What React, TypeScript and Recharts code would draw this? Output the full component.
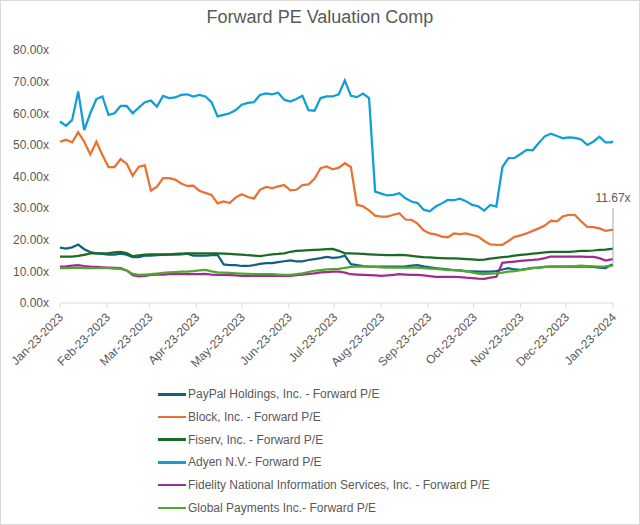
import React from 'react';
import { LineChart, Line, XAxis, YAxis } from 'recharts';

// sample dates (every 4 days)
const dates = [
  '2023-01-23', '2023-01-27', '2023-01-31', '2023-02-04', '2023-02-08', '2023-02-12', '2023-02-16', '2023-02-20',
  '2023-02-24', '2023-02-28', '2023-03-04', '2023-03-08', '2023-03-12', '2023-03-16', '2023-03-20', '2023-03-24',
  '2023-03-28', '2023-04-01', '2023-04-05', '2023-04-09', '2023-04-13', '2023-04-17', '2023-04-21', '2023-04-25',
  '2023-04-29', '2023-05-03', '2023-05-07', '2023-05-11', '2023-05-15', '2023-05-19', '2023-05-23', '2023-05-27',
  '2023-05-31', '2023-06-04', '2023-06-08', '2023-06-12', '2023-06-16', '2023-06-20', '2023-06-24', '2023-06-28',
  '2023-07-02', '2023-07-06', '2023-07-10', '2023-07-14', '2023-07-18', '2023-07-22', '2023-07-26', '2023-07-30',
  '2023-08-03', '2023-08-07', '2023-08-11', '2023-08-15', '2023-08-19', '2023-08-23', '2023-08-27', '2023-08-31',
  '2023-09-04', '2023-09-08', '2023-09-12', '2023-09-16', '2023-09-20', '2023-09-24', '2023-09-28', '2023-10-02',
  '2023-10-06', '2023-10-10', '2023-10-14', '2023-10-18', '2023-10-22', '2023-10-26', '2023-10-30', '2023-11-03',
  '2023-11-07', '2023-11-11', '2023-11-15', '2023-11-19', '2023-11-23', '2023-11-27', '2023-12-01', '2023-12-05',
  '2023-12-09', '2023-12-13', '2023-12-17', '2023-12-21', '2023-12-25', '2023-12-29', '2024-01-02', '2024-01-06',
  '2024-01-10', '2024-01-14', '2024-01-18', '2024-01-22', '2024-01-23',
];

const paypal = [
  17.5, 17.2, 17.6, 18.5, 17, 16.1, 15.7, 15.5, 15.3, 15.3,
  15.6, 15.3, 14.5, 14.5, 15, 15, 15.1, 15.2, 15.3, 15.3,
  15.4, 15.6, 15, 15, 15, 15.1, 15.2, 12.2, 12, 12,
  11.7, 11.7, 12, 12.4, 12.6, 12.6, 12.9, 13.2, 13.5, 13.2,
  13.2, 13.6, 13.9, 14.2, 14.6, 14.3, 14.4, 15, 12.3, 12,
  11.7, 11.5, 11.5, 11.5, 11.5, 11.5, 11.5, 11.6, 11.8, 12,
  11.6, 11.3, 11, 10.8, 10.6, 10.4, 10.3, 10.1, 10, 9.9,
  9.9, 9.9, 10.1, 10.6, 11, 10.6, 10.5, 10.8, 11.1, 11.2,
  11.4, 11.5, 11.5, 11.5, 11.5, 11.5, 11.5, 11.5, 11.4, 11.2,
  11, 12.1, 12,
];

const block = [
  51, 51.6, 50.8, 54, 51, 47, 51, 46.8, 43, 43,
  45.5, 44, 40.2, 43.1, 43.5, 35.5, 36.8, 39.5, 39.5, 39,
  37.8, 37, 37.1, 35.5, 34.8, 34.2, 31.5, 32.1, 31.6, 33.4,
  34.4, 33.5, 33, 35.8, 36.7, 36.3, 36.9, 37.3, 35.6, 35.8,
  37.3, 37.5, 39.3, 42.6, 43.2, 42.3, 42.8, 44.2, 43, 31,
  30.6, 29.3, 27.6, 27.3, 27.3, 27.9, 28.4, 26.4, 26.3, 25.1,
  23, 22, 21.7, 21, 20.8, 22, 21.8, 22, 21.5, 21,
  19.6, 18.5, 18.4, 18.4, 19.6, 20.9, 21.4, 22, 22.8, 23.6,
  24.5, 26, 25.8, 27.4, 27.9, 27.8, 25.8, 24.1, 24, 23.6,
  22.8, 23.1, 23.1,
];

const fiserv = [
  14.7, 14.7, 14.7, 14.9, 15.2, 15.7, 15.7, 15.7, 15.8, 16,
  16.2, 15.8, 14.8, 15.1, 15.3, 15.4, 15.4, 15.4, 15.4, 15.5,
  15.6, 15.7, 15.7, 15.7, 15.7, 15.7, 15.7, 15.6, 15.5, 15.4,
  15.3, 15.1, 15, 14.8, 15.1, 15.4, 15.5, 15.7, 16.2, 16.5,
  16.6, 16.7, 16.8, 16.9, 17, 17.1, 16.5, 15.7, 15.7, 15.6,
  15.5, 15.4, 15.3, 15.2, 15.1, 15.1, 15.2, 15.1, 14.9, 14.7,
  14.5, 14.4, 14.3, 14.2, 14.1, 14.1, 14, 13.9, 13.8, 13.6,
  13.7, 14, 14.3, 14.5, 14.7, 15, 15.2, 15.4, 15.6, 15.8,
  16, 16.2, 16.2, 16.2, 16.2, 16.3, 16.5, 16.5, 16.6, 16.8,
  16.9, 17.1, 17.1,
];

const adyen = [
  57.4, 56, 57.9, 66.9, 54.7, 60, 64.5, 65.3, 59.5, 60,
  62.3, 62.3, 60, 61.8, 63.5, 64, 62.1, 65.5, 64.8, 65,
  65.8, 66, 65.3, 65.8, 65.3, 63.5, 59, 59.5, 60, 61,
  62.7, 63.3, 63.5, 65.8, 66.3, 66, 66.5, 64.3, 63.7, 64.5,
  65.5, 61, 60.8, 64.8, 65.3, 65.3, 66, 70.4, 65.5, 65.1,
  66.2, 64.8, 35.2, 34.6, 34, 34.2, 34.7, 33.1, 32.1, 31.6,
  29.5, 29, 30.5, 31.5, 32.6, 32.5, 33, 32.2, 31, 30.6,
  29.2, 31, 30.5, 43, 45.8, 45.9, 47.1, 48.4, 48.3, 50.6,
  52.7, 53.5, 52.8, 52.1, 52.4, 52.2, 51.7, 50, 51, 52.6,
  50.8, 50.8, 51.2,
];

const fis = [
  11.5, 11.6, 11.8, 12, 11.7, 11.5, 11.4, 11.3, 11.2, 11.1,
  11, 10.3, 8.8, 8.4, 8.6, 8.9, 9, 9, 9.1, 9.1,
  9.1, 9.1, 9.1, 9.1, 9.2, 9, 8.9, 8.9, 8.8, 8.7,
  8.6, 8.6, 8.6, 8.6, 8.6, 8.6, 8.6, 8.6, 8.6, 8.8,
  9, 9.2, 9.4, 9.7, 9.8, 9.9, 9.9, 9.6, 9.1, 9,
  8.9, 8.8, 8.7, 8.6, 8.7, 8.9, 9.1, 9, 8.9, 8.9,
  8.7, 8.5, 8.3, 8.3, 8.3, 8.3, 8.2, 8, 7.9, 7.7,
  7.6, 8, 8.3, 12.7, 12.9, 13.1, 13.3, 13.5, 13.6, 13.8,
  14.2, 14.7, 14.7, 14.7, 14.7, 14.7, 14.7, 14.6, 14.6, 14.2,
  13.4, 13.8, 13.9,
];

const gpn = [
  11, 11, 11.1, 11.2, 11, 11, 11, 11, 11, 10.9,
  10.8, 10.3, 9.2, 8.9, 9, 9.1, 9.3, 9.5, 9.7, 9.8,
  9.9, 9.9, 10.1, 10.3, 10.5, 10, 9.7, 9.6, 9.5, 9.4,
  9.3, 9.2, 9.1, 9.1, 9.1, 9.1, 9, 8.9, 8.9, 9.1,
  9.4, 9.8, 10.2, 10.4, 10.6, 10.7, 10.8, 11.1, 11.4, 11.5,
  11.5, 11.5, 11.4, 11.3, 11.2, 11.2, 11.2, 11.2, 11.2, 11.2,
  11, 10.9, 10.8, 10.6, 10.4, 10.4, 10.2, 10, 9.7, 9.3,
  9.1, 9.3, 9.4, 9.6, 9.9, 10.1, 10.4, 10.7, 11, 11.2,
  11.4, 11.5, 11.5, 11.5, 11.6, 11.7, 11.8, 11.7, 11.6, 11.5,
  11.6, 11.9, 11.67,
];

const tickDates = [
  '2023-01-23', '2023-02-23', '2023-03-23', '2023-04-23', '2023-05-23', '2023-06-23', '2023-07-23',
  '2023-08-23', '2023-09-23', '2023-10-23', '2023-11-23', '2023-12-23', '2024-01-23',
];
const yTicks = [0, 10, 20, 30, 40, 50, 60, 70, 80];

const series = [
  { key: 'paypal', name: 'PayPal Holdings, Inc. - Forward P/E', color: '#156082' },
  { key: 'block', name: 'Block, Inc. - Forward P/E', color: '#E97132' },
  { key: 'fiserv', name: 'Fiserv, Inc. - Forward P/E', color: '#196B24' },
  { key: 'adyen', name: 'Adyen N.V.- Forward P/E', color: '#0F9ED5' },
  { key: 'fis', name: 'Fidelity National Information Services, Inc. - Forward P/E', color: '#A02B93' },
  { key: 'gpn', name: 'Global Payments Inc.- Forward P/E', color: '#4EA72E' },
];

const data = dates.map((d, i) => ({
  t: Date.parse(d),
  paypal: paypal[i],
  block: block[i],
  fiserv: fiserv[i],
  adyen: adyen[i],
  fis: fis[i],
  gpn: gpn[i],
}));

const MONTHS = ['Jan', 'Feb', 'Mar', 'Apr', 'May', 'Jun', 'Jul', 'Aug', 'Sep', 'Oct', 'Nov', 'Dec'];
const fmtDate = (t: number) => {
  const d = new Date(t);
  return `${MONTHS[d.getUTCMonth()]}-${d.getUTCDate()}-${d.getUTCFullYear()}`;
};

const FONT = '"Liberation Sans", Arial, sans-serif';
const GREY = '#595959';

const DateTick = (props: any) => {
  const { x, y, payload } = props;
  const ax = x + 4;
  const ay = y + 8;
  return (
    <text x={ax} y={ay} transform={`rotate(-45 ${ax} ${ay})`} textAnchor="end" fill={GREY} fontSize={12} fontFamily={FONT}>
      {fmtDate(payload.value)}
    </text>
  );
};

const LAST = dates.length - 1;
const EndLabel = (props: any) => {
  const { x, y, index, value } = props;
  if (index !== LAST) return null;
  return (
    <g>
      <line x1={x} y1={y - 3} x2={x} y2={y - 58} stroke="#a6a6a6" strokeWidth={1} />
      <text x={x} y={y - 64} textAnchor="middle" fill={GREY} fontSize={12} fontFamily={FONT}>
        {Number(value).toFixed(2)}x
      </text>
    </g>
  );
};

export default function App() {
  return (
    <div
      style={{
        position: 'absolute',
        left: 0,
        top: 0,
        width: 640,
        height: 525,
        boxSizing: 'border-box',
        border: '1px solid #d9d9d9',
        background: '#fff',
        fontFamily: FONT,
      }}
    >
      <div style={{ position: 'absolute', top: 6, left: 0, width: 638, textAlign: 'center', fontSize: 18, color: GREY }}>
        Forward PE Valuation Comp
      </div>
      <LineChart width={638} height={523} data={data} margin={{ top: 49, right: 26, bottom: 161, left: 0 }}>
        <XAxis
          dataKey="t"
          type="number"
          domain={[Date.parse(tickDates[0]), Date.parse(tickDates[tickDates.length - 1])]}
          ticks={tickDates.map((d) => Date.parse(d))}
          tick={<DateTick />}
          axisLine={{ stroke: '#d9d9d9' }}
          tickLine={{ stroke: '#d9d9d9' }}
          tickSize={5}
          height={60}
          interval={0}
        />
        <YAxis
          type="number"
          domain={[0, 80]}
          ticks={yTicks}
          tickFormatter={(v: number) => `${v.toFixed(2)}x`}
          tick={{ fill: GREY, fontSize: 12, fontFamily: FONT }}
          axisLine={false}
          tickLine={false}
          tickMargin={5}
          width={59}
        />
        {series.map((s) => (
          <Line
            key={s.key}
            dataKey={s.key}
            name={s.name}
            stroke={s.color}
            strokeWidth={2.25}
            dot={false}
            type="linear"
            isAnimationActive={false}
            label={s.key === 'gpn' ? <EndLabel /> : undefined}
          />
        ))}
      </LineChart>
      <div style={{ position: 'absolute', left: 157, top: 382, fontSize: 12, color: GREY }}>
        {series.map((s) => (
          <div key={s.key} style={{ display: 'flex', alignItems: 'center', height: 22.7 }}>
            <span style={{ display: 'inline-block', width: 28, height: 2.5, background: s.color, marginRight: 2 }} />
            <span>{s.name}</span>
          </div>
        ))}
      </div>
    </div>
  );
}
